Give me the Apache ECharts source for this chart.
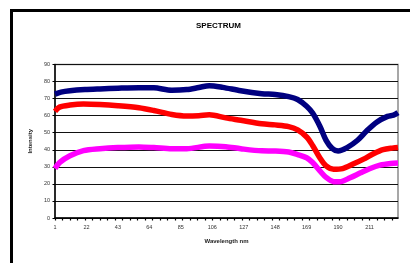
<!DOCTYPE html>
<html>
<head>
<meta charset="utf-8">
<script src="https://cdn.jsdelivr.net/npm/echarts@6/dist/echarts.min.js"></script>
<style>
  html, body { margin: 0; padding: 0; background: #fff; }
  #chart { width: 410px; height: 263px; }
</style>
</head>
<body>
<div id="chart"></div>
<script>
// wavelength categories 1..230, labels every 21
const wavelengths = [];
for (let n = 1; n <= 230; n++) wavelengths.push(String(n));

// [category index, intensity]
const navySeries = [
  [0, 72.6], [4, 73.8], [10, 74.6], [20, 75.3], [30, 75.7], [42, 76.1],
  [56, 76.4], [66, 76.3], [78, 74.9], [88, 75.3], [96, 76.5], [103, 77.6],
  [112, 76.6], [124, 74.6], [138, 72.9], [147, 72.4], [156, 71.2], [162, 69.5],
  [168, 65.5], [172, 61.5], [177, 53.5], [181, 45.5], [185, 40.8], [189, 39.3],
  [195, 41.3], [202, 45.6], [208, 51.0], [215, 56.3], [222, 59.6], [226, 60.3],
  [229, 61.8]
];
const redSeries = [
  [0, 62.5], [3, 65.0], [10, 66.2], [19, 66.8], [30, 66.5], [42, 65.8],
  [56, 64.6], [66, 63.0], [78, 60.7], [88, 59.8], [96, 60.0], [103, 60.5],
  [114, 58.7], [124, 57.3], [138, 55.3], [147, 54.6], [156, 53.6], [162, 51.6],
  [168, 47.5], [172, 42.5], [177, 35.0], [181, 30.5], [186, 28.6], [192, 29.0],
  [199, 31.6], [206, 34.5], [212, 37.4], [219, 40.1], [226, 41.1], [229, 41.4]
];
const magentaSeries = [
  [0, 29.0], [3, 32.5], [10, 36.5], [19, 39.5], [30, 40.6], [42, 41.3],
  [56, 41.7], [66, 41.3], [78, 40.6], [88, 40.6], [103, 42.2], [114, 41.8],
  [124, 40.6], [138, 39.4], [147, 39.3], [156, 38.7], [162, 37.2], [168, 35.3],
  [172, 32.5], [177, 27.5], [181, 23.8], [186, 21.3], [190, 21.2], [197, 23.6],
  [204, 26.5], [210, 28.9], [217, 31.0], [224, 32.0], [229, 32.3]
];

const FONT = 'Liberation Sans, Arial, sans-serif';

const chart = echarts.init(document.getElementById('chart'), null, { renderer: 'canvas' });

function line(data, color) {
  return {
    type: 'line',
    data: data,
    smooth: 0.3,
    symbol: 'none',
    lineStyle: { width: 5.5, color: color },
    itemStyle: { color: color },
    animation: false,
  };
}

chart.setOption({
  backgroundColor: '#fff',
  animation: false,
  title: {
    text: 'SPECTRUM',
    left: 191,
    top: 17,
    textStyle: { fontFamily: FONT, fontSize: 8, fontWeight: 'bold', color: '#000' },
  },
  graphic: [
    {
      // outer chart frame
      type: 'rect',
      shape: { x: 11.5, y: 10.5, width: 420, height: 270 },
      style: { fill: 'none', stroke: '#000', lineWidth: 3 },
      silent: true,
    },
  ],
  grid: {
    left: 55,
    right: 12,
    top: 64.5,
    bottom: 45,
    show: true,
    borderColor: '#8a8a8a',
    borderWidth: 1.5,
  },
  xAxis: {
    type: 'category',
    data: wavelengths,
    boundaryGap: false,
    name: 'Wavelength nm',
    nameLocation: 'middle',
    nameGap: 20,
    nameTextStyle: { fontFamily: FONT, fontSize: 6, fontWeight: 'bold', color: '#222' },
    axisLine: { lineStyle: { color: '#000', width: 1.5 } },
    axisTick: { interval: 4, length: 2.5, lineStyle: { color: '#000', width: 1.2 } },
    axisLabel: { interval: 20, fontFamily: FONT, fontSize: 5.5, color: '#333', margin: 6 },
    splitLine: { show: false },
  },
  yAxis: {
    type: 'value',
    min: 0,
    max: 90,
    interval: 10,
    name: 'Intensity',
    nameLocation: 'middle',
    nameRotate: 90,
    nameGap: 16,
    nameTextStyle: { fontFamily: FONT, fontSize: 6, fontWeight: 'bold', color: '#222' },
    axisLine: { show: true, lineStyle: { color: '#000', width: 1.5 } },
    axisTick: { show: true, length: 2.5, lineStyle: { color: '#000' } },
    axisLabel: { fontFamily: FONT, fontSize: 5.5, color: '#333', margin: 5 },
    splitLine: { lineStyle: { color: '#111', width: 1 } },
  },
  series: [
    line(navySeries, '#000080'),
    line(redSeries, '#ff0000'),
    line(magentaSeries, '#ff00ff'),
  ],
});
</script>
</body>
</html>
